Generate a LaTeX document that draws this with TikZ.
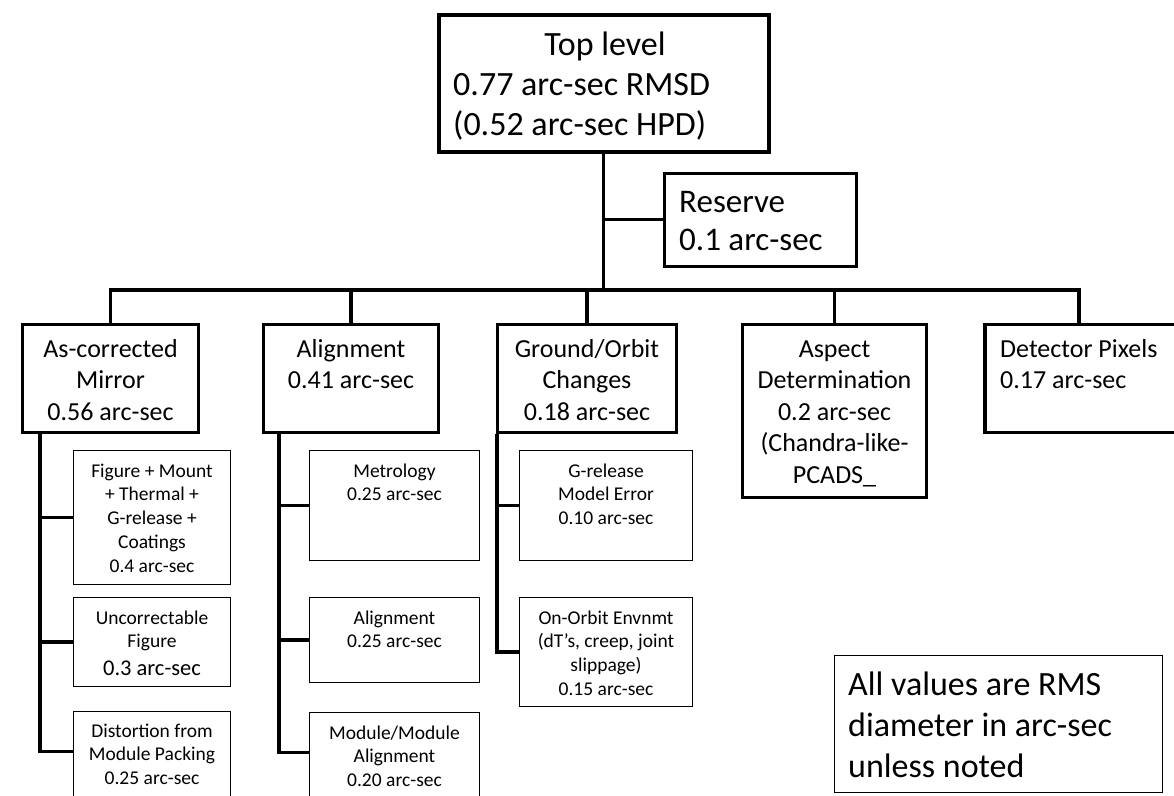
\documentclass[tikz,border=0pt]{standalone}
\usepackage{fontspec}
\setmainfont{Carlito}
\newcommand\lns[2]{\begin{tabular}[t]{@{}#1@{}}#2\end{tabular}}
\newcommand\fsz[2]{\fontsize{#1}{#2}\selectfont}
\tikzset{
  topbox/.style={draw, line width=4pt, inner sep=0pt},
  resbox/.style={draw, line width=3pt, inner sep=0pt},
  midbox/.style={draw, line width=3.5pt, inner sep=0pt},
  subbox/.style={draw, line width=1.8pt, inner sep=0pt},
  notebox/.style={draw, line width=1.8pt, inner sep=0pt},
  link/.style={line width=3.5pt},
  thinlink/.style={line width=3pt},
  txt/.style={anchor=base, inner sep=0pt},
  ltxt/.style={anchor=base west, inner sep=0pt},
  bigfont/.style={font={\fsz{34}{40}}},
  resfont/.style={font={\fsz{33}{38}}},
  midfont/.style={font={\fsz{26}{31.5}}},
  subfont/.style={font={\fsz{19.5}{23.8}}},
}
\begin{document}
\begin{tikzpicture}[x=1pt,y=-1pt]
\useasboundingbox (0,0) rectangle (1174,795);
\clip (0,0) rectangle (1174,795);
\fill[white] (0,0) rectangle (1174,795);

% boxes
\node[topbox, minimum width=330pt, minimum height=137pt] (top) at (603.5,83) {};
\node[resbox, minimum width=192pt, minimum height=93pt] (res) at (760,219.5) {};
\node[midbox, minimum width=176pt, minimum height=108pt] (asc) at (110.5,378.5) {};
\node[midbox, minimum width=175pt, minimum height=108pt] (aln) at (351,378.5) {};
\node[midbox, minimum width=179pt, minimum height=108pt] (gnd) at (587,378.5) {};
\node[midbox, minimum width=184pt, minimum height=173pt] (asp) at (834.5,411) {};
\node[midbox, minimum width=195pt, minimum height=108pt] (det) at (1082.5,378.5) {};

\node[subbox, minimum width=157pt, minimum height=134pt] (a1) at (152,517.5) {};
\node[subbox, minimum width=157pt, minimum height=89pt] (a2) at (152,642) {};
\node[subbox, minimum width=157pt, minimum height=118pt] (a3) at (152,770.5) {};
\node[subbox, minimum width=170pt, minimum height=110pt] (b1) at (394.5,505.5) {};
\node[subbox, minimum width=170pt, minimum height=85pt] (b2) at (394.5,640) {};
\node[subbox, minimum width=170pt, minimum height=117pt] (b3) at (394.5,771) {};
\node[subbox, minimum width=173pt, minimum height=110pt] (c1) at (606,505.5) {};
\node[subbox, minimum width=173pt, minimum height=109pt] (c2) at (606,652) {};
\node[notebox, minimum width=328pt, minimum height=137pt] (note) at (998.5,724) {};

% connectors
\coordinate (bus) at (605,290);
\coordinate (busR) at (1079,290);
\coordinate (tA) at (40,0);
\coordinate (tB) at (279,0);
\coordinate (tC) at (497,0);

\draw[link] (top.south) -- (top.south |- bus);
\draw[thinlink] (top.south |- res.west) -- (res.west);
\draw[link] (asc.north) |- (busR) -- (busR |- det.north);
\draw[link] (aln.north) -- (aln.north |- bus);
\draw[link] (gnd.north) -- (gnd.north |- bus);
\draw[link] (asp.north) -- (asp.north |- bus);

\draw[link] (asc.south -| tA) |- ([yshift=-41pt]a3.north west);
\draw[link] (tA |- a1.west) -- (a1.west);
\draw[link] (tA |- a2.west) -- (a2.west);

\draw[link] (aln.south -| tB) |- ([yshift=-41pt]b3.north west);
\draw[link] (tB |- b1.west) -- (b1.west);
\draw[link] (tB |- b2.west) -- (b2.west);

\draw[link] (gnd.south -| tC) |- (c2.west);
\draw[link] (tC |- c1.west) -- (c1.west);

% texts
\node[txt, bigfont] (topT) at (605,55) {Top level};
\node[ltxt, bigfont] (topV) at (453,95) {\lns{l}{0.77 arc-sec RMSD\\(0.52 arc-sec HPD)}};
\node[ltxt, resfont] (resT) at (679,212) {\lns{l}{Reserve\\0.1 arc-sec}};

\node[txt, midfont] (ascT) at (110.5,357) {\lns{c}{As-corrected\\Mirror\\0.56 arc-sec}};
\node[txt, midfont] (alnT) at (351,357) {\lns{c}{Alignment\\0.41 arc-sec}};
\node[txt, midfont] (gndT) at (587,357) {\lns{c}{Ground/Orbit\\Changes\\0.18 arc-sec}};
\node[txt, midfont] (aspT) at (834.5,357) {\lns{c}{Aspect\\Determination\\0.2 arc-sec\\(Chandra-like-\\PCADS\_}};
\node[ltxt, midfont] (detT) at (1000,357) {\lns{l}{Detector Pixels\\0.17 arc-sec}};

\node[txt, subfont] (a1T) at (152,477) {\lns{c}{Figure + Mount\\+ Thermal +\\G-release +\\Coatings\\0.4 arc-sec}};
\node[txt, subfont] (a2T) at (152,624) {\lns{c}{Uncorrectable\\Figure}};
\node[txt, font={\fsz{22.5}{27}}] (a2V) at (152,675) {0.3 arc-sec};
\node[txt, subfont] (a3T) at (152,737) {\lns{c}{Distortion from\\Module Packing\\0.25 arc-sec}};

\node[txt, subfont] (b1T) at (394.5,477) {\lns{c}{Metrology\\0.25 arc-sec}};
\node[txt, subfont] (b2T) at (394.5,624) {\lns{c}{Alignment\\0.25 arc-sec}};
\node[txt, subfont] (b3T) at (394.5,739) {\lns{c}{Module/Module\\Alignment\\0.20 arc-sec}};

\node[txt, subfont] (c1T) at (606,477) {\lns{c}{G-release\\Model Error\\0.10 arc-sec}};
\node[txt, subfont] (c2T) at (606,624) {\lns{c}{On-Orbit Envnmt\\(dT’s, creep, joint\\slippage)\\0.15 arc-sec}};

\node[ltxt, font={\fsz{34}{41}}] (noteT) at (848,695) {\lns{l}{All values are RMS\\diameter in arc-sec\\unless noted}};
\end{tikzpicture}
\end{document}
